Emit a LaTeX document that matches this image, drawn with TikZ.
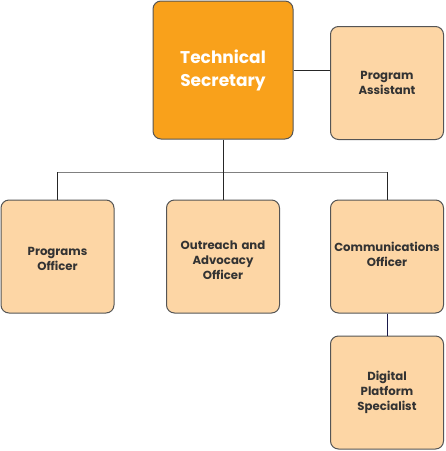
\documentclass[tikz,border=0pt]{standalone}
\usepackage{fontspec}
\setmainfont{Poppins}
\definecolor{orangebox}{HTML}{F9A11B}
\definecolor{lightbox}{HTML}{FDD6A5}
\definecolor{boxborder}{HTML}{555555}
\definecolor{txtdark}{HTML}{333333}
\definecolor{navyline}{HTML}{1A1A4A}
\begin{document}
\begin{tikzpicture}[x=1pt,y=-1pt,
  box/.style={draw=boxborder,line width=1pt,rounded corners=8pt,fill=lightbox,
    minimum width=113pt,minimum height=113pt,inner sep=2pt,align=center,
    font=\fontsize{11.7}{15}\selectfont\bfseries,text=txtdark,text width=108pt},
  topbox/.style={box,fill=orangebox,minimum width=140pt,minimum height=138pt,
    text width=130pt,font=\fontsize{17}{23}\selectfont\bfseries,text=white},
  conn/.style={line width=1pt,draw=black!85}]
\useasboundingbox (0,0) rectangle (446,451);
\node[topbox] (ts) at (223,70) {Technical\\Secretary};
\node[box] (pa) at (387,83) {Program\\Assistant};
\node[box] (po) at (57.5,256.5) {\rule{0pt}{14pt}Programs\\Officer};
\node[box] (oa) at (223,256.5) {\rule{0pt}{16pt}Outreach and\\Advocacy\\Officer};
\node[box] (co) at (387,256.5) {Communications\\Officer\rule[-4pt]{0pt}{4pt}};
\node[box] (dp) at (387,392.5) {Digital\\Platform\\Specialist};
\coordinate (j) at (223,172);
\draw[conn] (ts.east) -- (ts.east -| pa.west);
\draw[conn] (ts.south) -- (j);
\draw[conn,draw=black!50] (po.north |- j) -- (co.north |- j);
\draw[conn] (po.north |- j) -- (po.north);
\draw[conn] (j) -- (oa.north);
\draw[conn] (co.north |- j) -- (co.north);
\draw[conn,draw=navyline] (co.south) -- (dp.north);
\end{tikzpicture}
\end{document}
